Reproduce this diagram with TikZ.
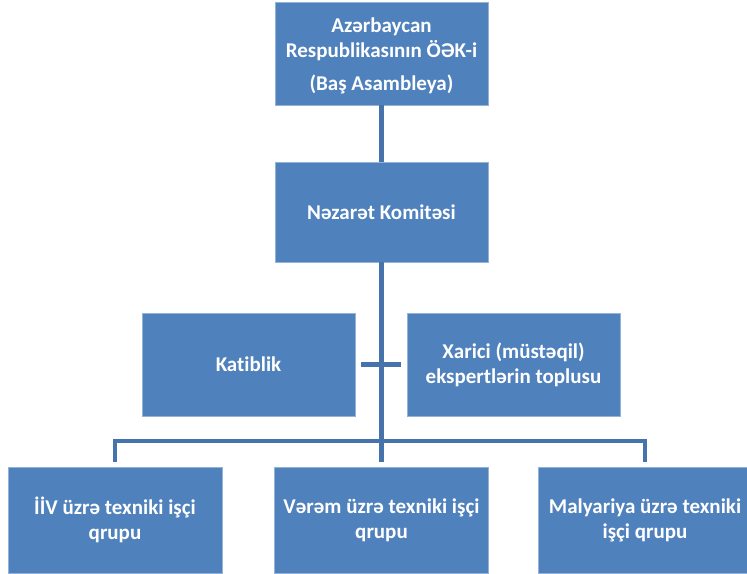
\documentclass[tikz,border=0pt]{standalone}
\usepackage{fontspec}
\setmainfont{Carlito}[Ligatures=NoCommon]
\definecolor{boxblue}{HTML}{4F81BD}
\definecolor{lineblue}{HTML}{4673AB}
\tikzset{
  orgbox/.style={fill=boxblue, draw=boxblue!60!white, line width=0.8pt,
    text=white, align=center, inner sep=2pt,
    font=\bfseries\fontsize{21}{25}\selectfont},
  topbox/.style={orgbox, minimum width=213pt, minimum height=103pt},
  midbox/.style={orgbox, minimum width=213pt, minimum height=100pt},
  lowbox/.style={orgbox, minimum width=214pt, minimum height=106pt},
  link/.style={draw=lineblue, line width=4.5pt}
}
\begin{document}
\begin{tikzpicture}[x=1pt,y=-1pt]
\useasboundingbox (0,0) rectangle (747,573);

% upper levels
\node[topbox] (osk) at (381.5,53.5) {};
\node[align=center, text=white, font=\bfseries\fontsize{21}{25}\selectfont] (osktext) at (381.5,56)
  {Azərbaycan\\Respublikasının ÖƏK-i\\[8pt](Baş Asambleya)};
\node[midbox] (komite) at (381.5,212) {Nəzarət Komitəsi};

% side bodies
\node[topbox] (katib) at (248.5,364.5) {Katiblik};
\node[topbox] (xarici) at (513.5,364.5) {Xarici (müstəqil)\\ekspertlərin toplusu};

% working groups
\node[lowbox] (hiv) at (115,520) {İİV üzrə texniki işçi\\qrupu};
\node[lowbox] (verem) at (381.5,520) {Vərəm üzrə texniki işçi\\qrupu};
\node[lowbox] (malyar) at (645,520) {Malyariya üzrə texniki\\işçi qrupu};

\coordinate (bus) at (381,441);

\draw[link] (osk.south) -- (komite.north);
\draw[link] (komite.south) -- ([yshift=5pt]verem.north);
\draw[link] ([xshift=6pt]katib.east) -- ([xshift=-6pt]xarici.west);
\draw[link] ([yshift=5pt]hiv.north) |- (bus) -| ([yshift=5pt]malyar.north);
\end{tikzpicture}
\end{document}
